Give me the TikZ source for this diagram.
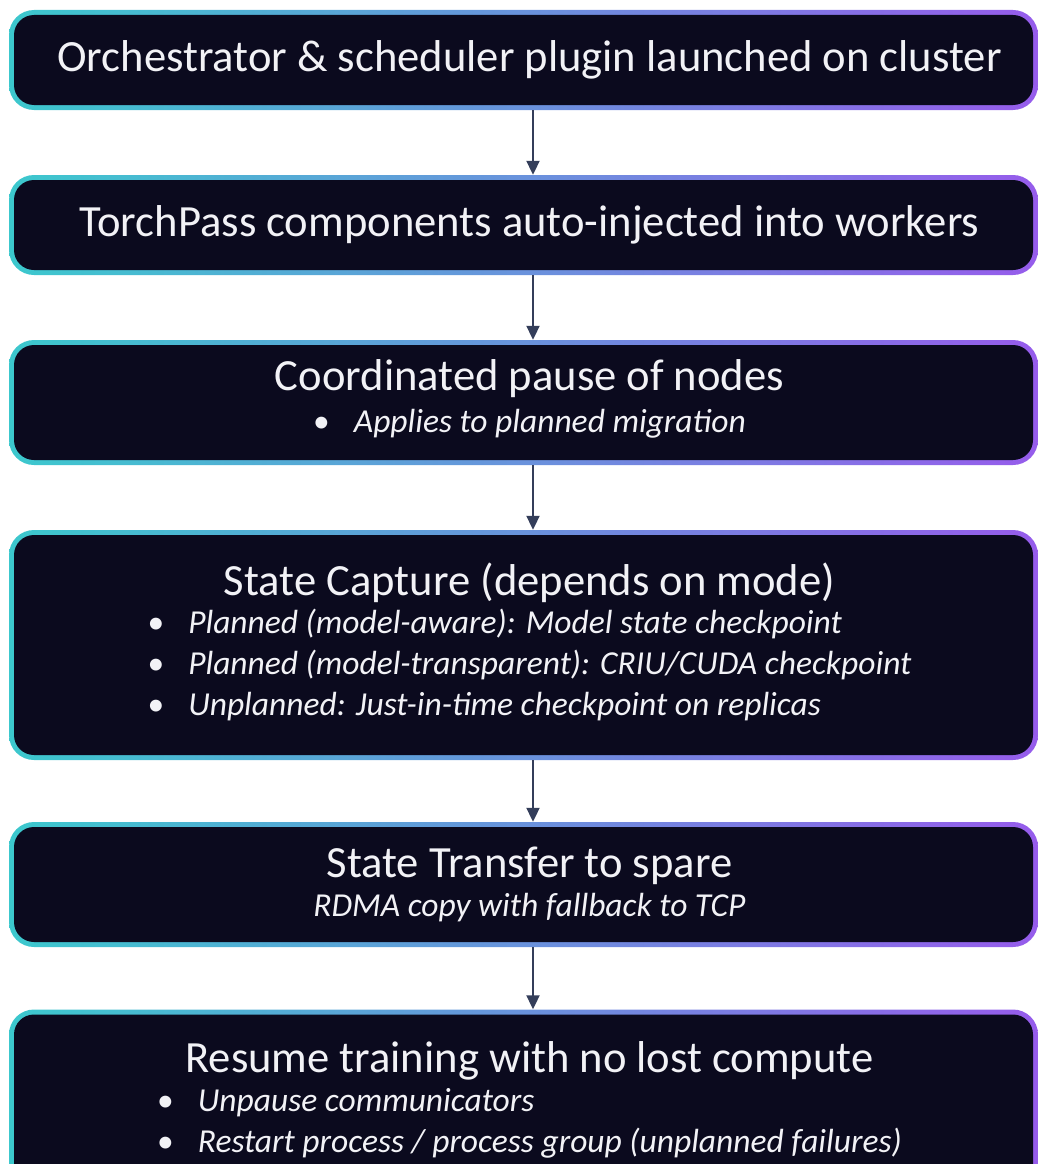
\documentclass[tikz,border=0pt]{standalone}
\usepackage{fontspec}
\usetikzlibrary{arrows.meta}
\setmainfont{Carlito}
\definecolor{boxfill}{RGB}{11,10,30}
\definecolor{edgeL}{RGB}{60,200,205}
\definecolor{edgeM}{RGB}{115,165,232}
\definecolor{edgeR}{RGB}{150,92,235}
\definecolor{arrowc}{RGB}{52,62,90}
\definecolor{txt}{RGB}{242,242,246}
\newcommand{\ttl}{\fontsize{44.6}{50}\selectfont}
\newcommand{\sub}{\fontsize{33.5}{41}\selectfont\itshape}
\newcommand{\blt}{\textbullet}
% shifts a centred line slightly to the right of the box centre
\newcommand{\nudge}{\hspace*{12pt}}
\begin{document}
\begin{tikzpicture}[x=1pt,y=-1pt,
  flowbox/.style={rectangle, rounded corners=25pt, inner sep=0pt,
    minimum width=1029pt, minimum height=#1, align=center, text=txt,
    shade, shading=axis, left color=edgeL, middle color=edgeM, right color=edgeR,
    path picture={\fill[boxfill, rounded corners=20pt]
      ([shift={(5pt,5pt)}]path picture bounding box.south west) rectangle
      ([shift={(-5pt,-5pt)}]path picture bounding box.north east);}},
  flowarrow/.style={draw=arrowc, line width=2pt,
    -{Triangle[length=14pt,width=13pt]}}]
\useasboundingbox (0,0) rectangle (1038,1164);
\clip (0,0) rectangle (1038,1164);

\node[flowbox=100pt] (orch) at (523.5,60)
  {\nudge\ttl Orchestrator \& scheduler plugin launched on cluster};

\node[flowbox=100pt] (inject) at (523.5,225)
  {\nudge\ttl TorchPass components auto-injected into workers};

\node[flowbox=125pt] (pause) at (523.5,402.5)
  {\nudge{\ttl Coordinated pause of nodes}\\[5pt]
   \nudge{\sub\begin{tabular}{@{}l@{\hspace{24pt}}l@{}}
     \upshape\blt & Applies to planned migration
   \end{tabular}}};

\node[flowbox=230pt] (capture) at (523.5,645)
  {\nudge{\ttl State Capture (depends on mode)}\\[1pt]
   \nudge{\sub\begin{tabular}{@{}l@{\hspace{24pt}}l@{}}
     \upshape\blt & Planned (model-aware): Model state checkpoint\\
     \upshape\blt & Planned (model-transparent): CRIU/CUDA checkpoint\\
     \upshape\blt & Unplanned: Just-in-time checkpoint on replicas
   \end{tabular}}};

\node[flowbox=125pt] (transfer) at (523.5,884.5)
  {\nudge{\ttl State Transfer to spare}\\[8pt]
   \nudge{\sub RDMA copy with fallback to TCP}};

\node[flowbox=187pt] (resume) at (523.5,1103)
  {\nudge{\ttl Resume training with no lost compute}\\[1pt]
   \nudge{\sub\begin{tabular}{@{}l@{\hspace{24pt}}l@{}}
     \upshape\blt & Unpause communicators\\
     \upshape\blt & Restart process / process group (unplanned failures)
   \end{tabular}}};

\foreach \a/\b in {orch/inject, inject/pause, pause/capture,
                   capture/transfer, transfer/resume}
  \draw[flowarrow] ([xshift=9.5pt]\a.south) -- ([xshift=9.5pt]\b.north);
\end{tikzpicture}
\end{document}
